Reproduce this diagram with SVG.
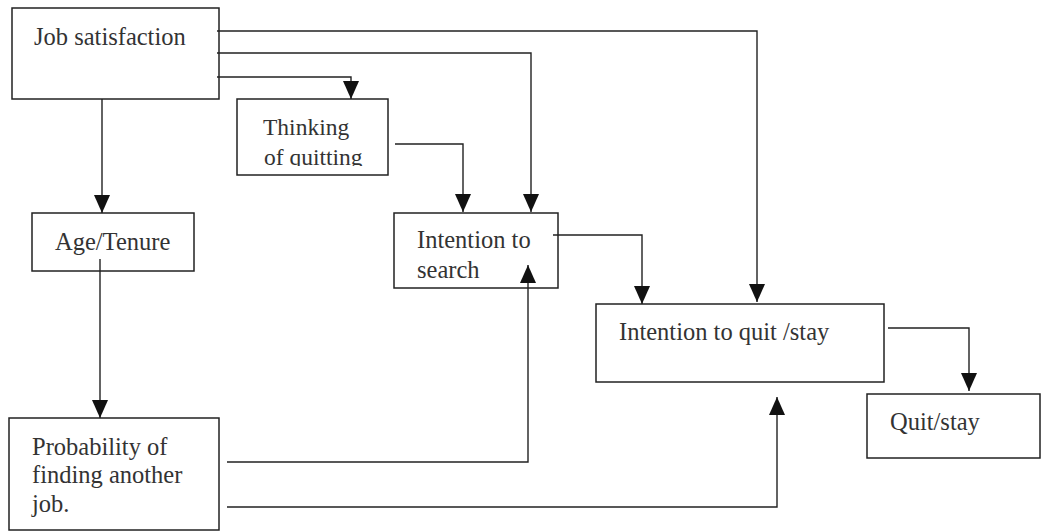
<svg xmlns="http://www.w3.org/2000/svg" width="1041" height="531" viewBox="0 0 1041 531">
<style>
.box{fill:#fff;stroke:#222;stroke-width:1.5}
.t{font-family:"Liberation Serif","Times New Roman",serif;font-size:24.5px;fill:#333}
.c{fill:none;stroke:#222;stroke-width:1.4}
.a{marker-end:url(#ah)}
</style>
<defs>
<marker id="ah" viewBox="0 0 18 16" refX="18" refY="8" markerWidth="18" markerHeight="16" markerUnits="userSpaceOnUse" orient="auto">
<path d="M0,0 L18,8 L0,16 Z" fill="#111"/>
</marker>
<clipPath id="clipThink"><rect x="237" y="99" width="151" height="67"/></clipPath>
</defs>
<rect width="1041" height="531" fill="#fff"/>
<g id="job-satisfaction">
<rect class="box" x="12" y="8" width="207" height="91"/>
<text class="t" x="34" y="45">Job satisfaction</text>
</g>
<g id="thinking-of-quitting">
<rect class="box" x="237" y="99" width="151" height="76"/>
<g clip-path="url(#clipThink)">
<text class="t" x="263" y="135" style="font-size:23.5px">Thinking</text>
<text class="t" x="264" y="165" style="font-size:23.5px">of quitting</text>
</g>
</g>
<g id="age-tenure">
<rect class="box" x="32" y="213" width="162" height="58"/>
<text class="t" x="55" y="250">Age/Tenure</text>
</g>
<g id="intention-to-search">
<rect class="box" x="394" y="213" width="164" height="75"/>
<text class="t" x="417" y="248">Intention to</text>
<text class="t" x="417" y="278">search</text>
</g>
<g id="intention-to-quit">
<rect class="box" x="596" y="304" width="288" height="78"/>
<text class="t" x="619" y="340">Intention to quit /stay</text>
</g>
<g id="quit-stay">
<rect class="box" x="867" y="394" width="173" height="64"/>
<text class="t" x="890" y="430">Quit/stay</text>
</g>
<g id="probability">
<rect class="box" x="9" y="418" width="210" height="112"/>
<text class="t" x="32" y="455">Probability of</text>
<text class="t" x="32" y="483">finding another</text>
<text class="t" x="32" y="512">job.</text>
</g>
<g id="connectors">
<path class="c a" d="M217,31 H757 V302"/>
<path class="c a" d="M217,53 H531 V212"/>
<path class="c a" d="M217,77 H351 V99"/>
<path class="c a" d="M102,99 V213"/>
<path class="c a" d="M395,144 H463 V212"/>
<path class="c a" d="M553,235 H642 V304"/>
<path class="c a" d="M888,328 H969 V391"/>
<path class="c a" d="M100,259 V418"/>
<path class="c a" d="M227,462 H528 V265"/>
<path class="c a" d="M227,507 H777 V397"/>
</g>
</svg>
